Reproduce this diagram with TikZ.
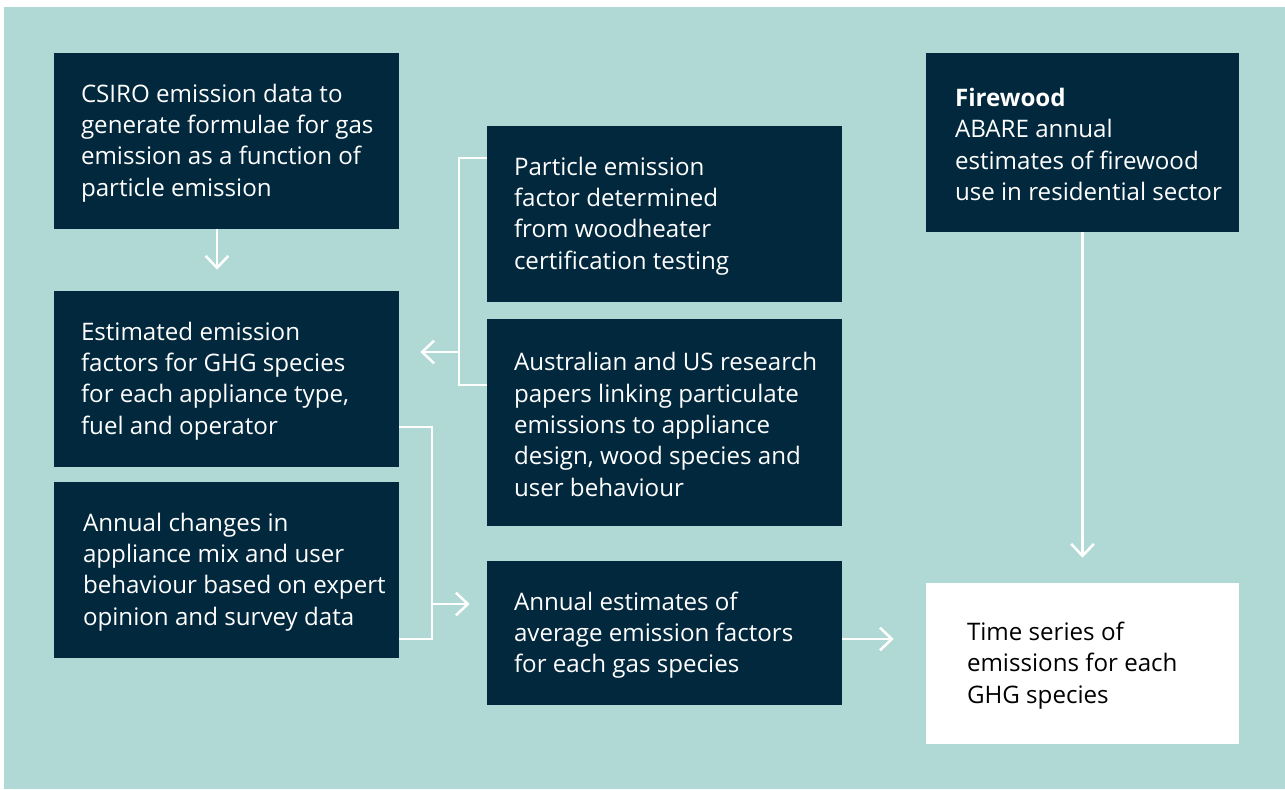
\documentclass[tikz,border=0pt]{standalone}
\usepackage{fontspec}
\setmainfont{Open Sans}
\usetikzlibrary{arrows.meta,fit}
\definecolor{bgteal}{RGB}{176,216,212}
\definecolor{navy}{RGB}{2,40,61}
\begin{document}
\begin{tikzpicture}[x=0.75pt,y=-0.75pt,
  dbox/.style={fill=navy, draw=none, inner sep=0pt},
  wbox/.style={fill=white, draw=none, inner sep=0pt},
  txt/.style={anchor=west, align=left, inner sep=0pt, yshift=-1.5pt, text=white, font=\fontsize{18.1}{23.5}\selectfont},
  conn/.style={draw=white, line width=1.9pt},
  arr/.style={conn, -{Straight Barb[length=9pt,width=17pt]}}
]
\useasboundingbox (0,0) rectangle (1285,789);
\fill[bgteal] (4,7) rectangle (1285,789);

\node[dbox, fit={(54,53) (399,229)}] (csiro) {};
\node[dbox, fit={(54,291) (399,467)}] (est) {};
\node[dbox, fit={(54,482) (399,658)}] (ann) {};
\node[dbox, fit={(487,126) (842,302)}] (part) {};
\node[dbox, fit={(487,319) (842,526)}] (aus) {};
\node[dbox, fit={(487,561) (842,705)}] (avg) {};
\node[dbox, fit={(926,53) (1239,232)}] (fire) {};
\node[wbox, fit={(926,583) (1239,744)}] (time) {};

\node[txt] (csirot) at ([xshift=20.25pt]csiro.west) {CSIRO emission data to\\generate formulae for gas\\emission as a function of\\particle emission};
\node[txt] (estt) at ([xshift=20.25pt]est.west) {Estimated emission\\factors for GHG species\\for each appliance type,\\fuel and operator};
\node[txt] (annt) at ([xshift=21.75pt]ann.west) {Annual changes in\\appliance mix and user\\behaviour based on expert\\opinion and survey data};
\node[txt] (partt) at ([xshift=20.25pt]part.west) {Particle emission\\factor determined\\from woodheater\\certification testing};
\node[txt] (aust) at ([xshift=20.25pt]aus.west) {Australian and US research\\papers linking particulate\\emissions to appliance\\design, wood species and\\user behaviour};
\node[txt] (avgt) at ([xshift=20.25pt]avg.west) {Annual estimates of\\average emission factors\\for each gas species};
\node[txt] (firet) at ([xshift=21.75pt]fire.west) {\textbf{Firewood}\\ABARE annual\\estimates of firewood\\use in residential sector};
\node[txt, text=black] (timet) at ([xshift=30.75pt]time.west) {Time series of\\emissions for each\\GHG species};

\coordinate (a1) at (217,0);
\draw[arr, shorten >=15.75pt] (csiro.south -| a1) -- (est.north -| a1);

\coordinate (b1) at (459,158);
\coordinate (b2) at (459,385);
\coordinate (b3) at (459,352);
\draw[conn] (part.west |- b1) -- (b1) -- (b2) -- (aus.west |- b2);
\draw[arr, shorten >=15.75pt] (b3) -- (est.east |- b3);

\coordinate (c1) at (432,427);
\coordinate (c2) at (432,639);
\coordinate (c3) at (432,604);
\draw[conn] (est.east |- c1) -- (c1) -- (c2) -- (ann.east |- c2);
\draw[arr, shorten >=12.75pt] (c3) -- (avg.west |- c3);

\coordinate (d1) at (0,639);
\draw[arr, shorten >=24pt] (avg.east |- d1) -- (time.west |- d1);
\draw[arr, shorten >=18.75pt] (fire.south) -- (time.north);
\end{tikzpicture}
\end{document}
